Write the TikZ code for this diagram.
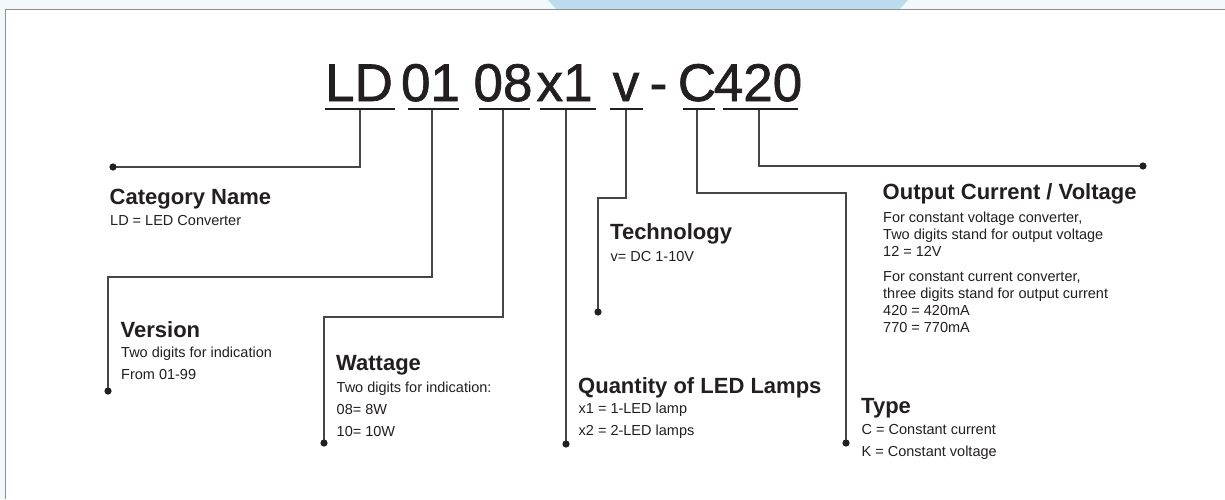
\documentclass[tikz,border=0pt]{standalone}
\usepackage{fontspec}
\setmainfont{Liberation Sans}
\newfontfamily\codefont{Liberation Sans}[FakeBold=1.3]
\usepackage{xcolor}
\definecolor{ink}{HTML}{231F20}
\definecolor{wire}{HTML}{464646}
\definecolor{framegray}{HTML}{8F8F8F}
\definecolor{band}{HTML}{F3F8FB}
\definecolor{tab}{HTML}{BCDCEE}

\begin{document}
\begin{tikzpicture}[x=1pt,y=-1pt,
  code/.style={anchor=base,inner sep=0pt,font=\codefont\fontsize{53}{53}\selectfont,text=ink},
  head/.style={anchor=base west,inner sep=0pt,font=\fontsize{22}{22}\selectfont\bfseries,text=ink},
  desc/.style={anchor=base west,inner sep=0pt,align=left,font=\fontsize{14.5}{22}\selectfont,text=ink},
  uline/.style={ink,line width=2pt},
  lead/.style={wire,line width=1.2pt}]
\useasboundingbox (0,0) rectangle (1225,499);
% page frame
\fill[band] (0,0) rectangle (1225,499);
\fill[tab] (548,0) -- (908,0) -- (899,10) -- (557,10) -- cycle;
\fill[white] (6,10) rectangle (1225,499);
\draw[framegray,line width=1.8pt] (5.5,499) -- (5.5,9.5) -- (1225,9.5);
% type code
\node[code] (cat) at (359,101) {LD};
\node[code] (ver) at (430.5,101) {01};
\node[code] (watt) at (503,101) {08};
\node[code] (qty) at (564.5,101) {x1};
\node[code] (tech) at (626,101) {v};
\node[code] (sep) at (658.5,101) {-};
\node[code] (type) at (697,101) {C};
\node[code] (out) at (758,101) {420};
% underlines
\draw[uline] (325,109) -- (395,109);
\draw[uline] (408,109) -- (459,109);
\draw[uline] (479,109) -- (530,109);
\draw[uline] (540,109) -- (596,109);
\draw[uline] (610,109) -- (643,109);
\draw[uline] (683,109) -- (715,109);
\draw[uline] (723,109) -- (798,109);
\coordinate (catU) at (360,110);
\coordinate (verU) at (432,110);
\coordinate (wattU) at (503,110);
\coordinate (qtyU) at (566,110);
\coordinate (techU) at (626,110);
\coordinate (typeU) at (697,110);
\coordinate (outU) at (759,110);
% end points
\coordinate (catDot) at (113,167);
\coordinate (verDot) at (108,391);
\coordinate (wattDot) at (324,443);
\coordinate (qtyDot) at (566,444);
\coordinate (techDot) at (598,312);
\coordinate (typeDot) at (846,443);
\coordinate (outDot) at (1143,166);
% leaders
\draw[lead] (catU) |- (catDot);
\draw[lead] (verU) -- (verU |- 0,277) -| (verDot);
\draw[lead] (wattU) -- (wattU |- 0,317) -| (wattDot);
\draw[lead] (qtyU) -- (qtyDot);
\draw[lead] (techU) -- (techU |- 0,198) -| (techDot);
\draw[lead] (typeU) -- (typeU |- 0,193) -| (typeDot);
\draw[lead] (outU) |- (outDot);
\foreach \d in {catDot,verDot,wattDot,qtyDot,techDot,typeDot,outDot}
  \fill[ink] (\d) circle (3.6pt);
% descriptions (multi-line texts sit on their last line)
\node[head] (catH) at (109.5,204) {Category Name};
\node[desc] (catT) at (110,225) {LD = LED Converter};
\node[head] (verH) at (120.5,337) {Version};
\node[desc] (verT) at (121,379) {Two digits for indication\\From 01-99};
\node[head] (wattH) at (336,370) {Wattage};
\node[desc] (wattT) at (336.5,436) {Two digits for indication:\\08= 8W\\10= 10W};
\node[head] (qtyH) at (578,393) {Quantity of LED Lamps};
\node[desc] (qtyT) at (578.5,435) {x1 = 1-LED lamp\\x2 = 2-LED lamps};
\node[head] (techH) at (610,239) {Technology};
\node[desc] (techT) at (610.5,261) {v= DC 1-10V};
\node[head] (typeH) at (861,413) {Type};
\node[desc] (typeT) at (861.5,456) {C = Constant current\\K = Constant voltage};
\node[head] (outH) at (882.5,199) {Output Current / Voltage};
\node[desc,font=\fontsize{14.5}{16.7}\selectfont] (outT) at (883,332)
  {For constant voltage converter,\\Two digits stand for output voltage\\12 = 12V\\[9pt]
   For constant current converter,\\three digits stand for output current\\420 = 420mA\\770 = 770mA};
\end{tikzpicture}
\end{document}
